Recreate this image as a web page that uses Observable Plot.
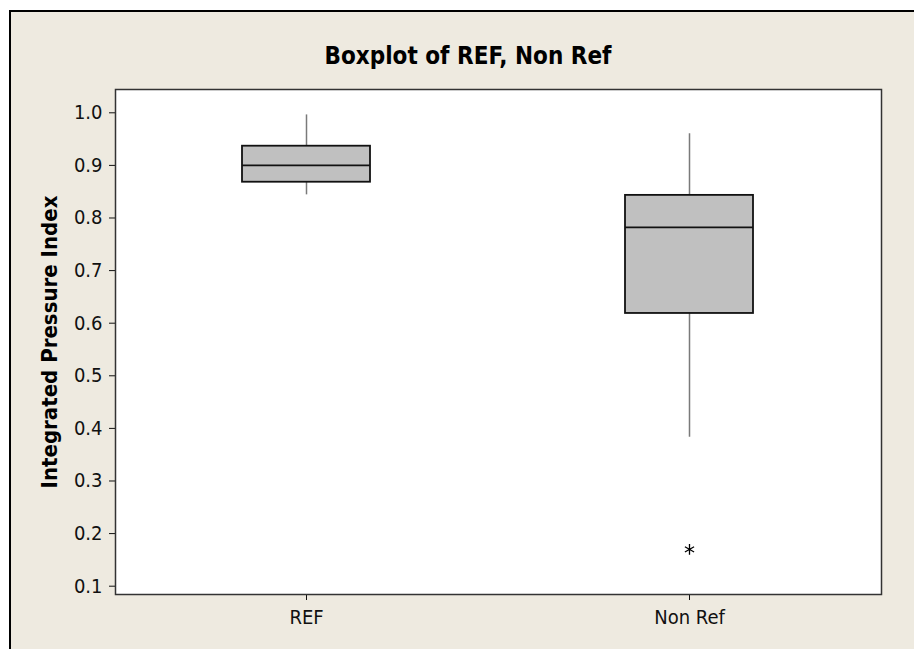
<!DOCTYPE html>
<html>
<head>
<meta charset="utf-8">
<script src="https://cdn.jsdelivr.net/npm/d3@7"></script>
<script src="https://cdn.jsdelivr.net/npm/@observablehq/plot@0.6"></script>
<style>
  html, body { margin: 0; padding: 0; background: #ffffff; width: 914px; height: 649px; overflow: hidden; }
  #panel {
    position: absolute; left: 9px; top: 10px; width: 905px; height: 639px;
    box-sizing: border-box; border-top: 2px solid #000; border-left: 2px solid #000;
    background: #eeeae0;
  }
  #title {
    position: absolute; left: 268px; width: 400px; top: 44px; text-align: center;
    font-family: "DejaVu Sans Condensed", "DejaVu Sans", sans-serif; font-stretch: condensed;
    font-weight: bold; font-size: 24px; line-height: 24px; color: #000;
  }
  #chart { position: absolute; left: 0; top: 76px; }
</style>
</head>
<body>
<div id="panel"></div>
<div id="title">Boxplot of REF, Non Ref</div>
<div id="chart"></div>
<script>
const categories = ["REF", "Non Ref"];
const lowWhisker = [0.844, 0.383];
const q1 = [0.868, 0.6185];
const median = [0.900, 0.782];
const q3 = [0.9365, 0.843];
const highWhisker = [0.996, 0.960];
const outlierCategory = ["Non Ref"];
const outlierValue = [0.170];
const yTicks = [0.1, 0.2, 0.3, 0.4, 0.5, 0.6, 0.7, 0.8, 0.9, 1.0];
const yLabel = "Integrated Pressure Index";

const boxes = categories.map((c, i) => ({
  cat: c, low: lowWhisker[i], q1: q1[i], med: median[i], q3: q3[i], high: highWhisker[i]
}));
const outliers = outlierCategory.map((c, i) => ({cat: c, value: outlierValue[i]}));

const FONT = '"DejaVu Sans Condensed", "DejaVu Sans", sans-serif';

const chart = Plot.plot({
  width: 914,
  height: 573,
  marginTop: 13,
  marginLeft: 115,
  marginRight: 33,
  marginBottom: 55,
  style: {background: "transparent", fontFamily: FONT, fontSize: "20px", color: "#111", fontStretch: "condensed"},
  x: {domain: categories, paddingInner: 0.665, paddingOuter: 0.33, label: null, tickSize: 6, tickPadding: 9},
  y: {domain: [0.0842, 1.0443], ticks: yTicks, tickFormat: d3.format(".1f"), label: null, tickSize: 6, tickPadding: 7},
  marks: [
    Plot.frame({fill: "white"}),
    Plot.ruleX(boxes, {x: "cat", y1: "low", y2: "high", stroke: "#7a7a7a", strokeWidth: 1.5}),
    Plot.barY(boxes, {x: "cat", y1: "q1", y2: "q3", fill: "#c0c0c0", stroke: "#111", strokeWidth: 1.8}),
    Plot.tickY(boxes, {x: "cat", y: "med", stroke: "#111", strokeWidth: 1.8}),
    Plot.dot(outliers, {x: "cat", y: "value", symbol: "asterisk", r: 5, stroke: "#000", strokeWidth: 1.3}),
    Plot.frame({stroke: "#333", strokeWidth: 1.5}),
    Plot.text([yLabel], {text: d => d, frameAnchor: "left", textAnchor: "middle", dx: -66, rotate: -90, fontWeight: "bold", fontSize: 22, fill: "#000"})
  ]
});
document.getElementById("chart").appendChild(chart);
</script>
</body>
</html>
